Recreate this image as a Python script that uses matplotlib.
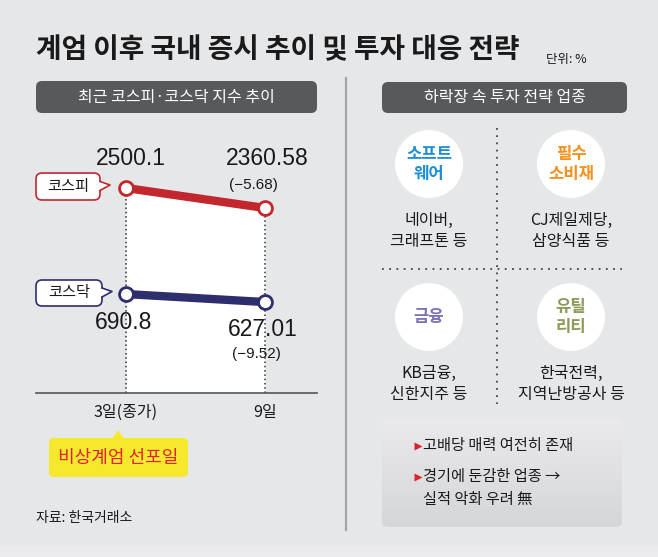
import matplotlib as mpl
import matplotlib.pyplot as plt
import numpy as np
from matplotlib.patches import FancyBboxPatch, Circle, Polygon

KR = ['Noto Sans CJK KR', 'DejaVu Sans']
NUM = ['Liberation Sans', 'DejaVu Sans']
mpl.rcParams['font.family'] = KR

# ---- data ----
days = ['3일(종가)', '9일']
kospi = [2500.1, 2360.58]
kosdaq = [690.8, 627.01]
kospi_chg = -5.68
kosdaq_chg = -9.52

sectors = ['소프트\n웨어', '필수\n소비재', '금융', '유틸\n리티']
sector_colors = ['#1b8ed5', '#f3921f', '#7d72b7', '#8b9b59']
stocks = ['네이버,\n크래프톤 등', 'CJ제일제당,\n삼양식품 등', 'KB금융,\n신한지주 등', '한국전력,\n지역난방공사 등']
notes = ['고배당 매력 여전히 존재', '경기에 둔감한 업종 →\n실적 악화 우려 無']

BG = '#e6e7e9'
RED = '#c1272d'
NAVY = '#2e2d6e'
DARK = '#1a1a1a'
W, H = 658, 557

fig = plt.figure(figsize=(W/100, H/100), dpi=100, facecolor=BG)

# canvas in pixel coords, y going down
cv = fig.add_axes([0, 0, 1, 1])
cv.set_xlim(0, W)
cv.set_ylim(H, 0)
cv.axis('off')
cv.set_zorder(0)

def px2fig(l, t, r, b):
    return [l/W, 1 - b/H, (r - l)/W, (b - t)/H]

def box(x0, y0, w, h, fc, ec='none', r=6, lw=1.2, z=1):
    p = FancyBboxPatch((x0, y0), w, h, boxstyle='round,pad=0,rounding_size=%s' % r,
                       fc=fc, ec=ec, lw=lw, zorder=z)
    cv.add_patch(p)
    return p

# title
cv.text(36, 50, '계엄 이후 국내 증시 추이 및 투자 대응 전략', fontsize=20, fontweight='bold',
        color=DARK, va='center', ha='left')
cv.text(546, 60, '단위: %', fontsize=9, color=DARK, va='center', ha='left')
cv.add_patch(plt.Rectangle((0, 546), W, 11, fc='#ebebed', ec='none'))

# header boxes
box(36, 81, 281, 32, '#58595b')
cv.text(176.5, 97.5, '최근 코스피·코스닥 지수 추이', fontsize=11.5, color='white', ha='center', va='center')
box(382, 82, 245, 31, '#58595b')
cv.text(504.5, 97.5, '하락장 속 투자 전략 업종', fontsize=11.5, color='white', ha='center', va='center')

# divider between panels
cv.plot([346, 346], [78, 530], color='#a5a5a8', lw=1.6)

# ---- left: line chart ----
x = np.arange(len(days))
ax = fig.add_axes(px2fig(36, 140, 317, 393))
ax.set_zorder(1)
ax.set_facecolor('none')
ax.set_xlim(-0.647, 1.374)
ax.set_ylim(1070, 2835)
ax.fill_between(x, kospi, 1070, color='white', lw=0, zorder=0)
ax.vlines(x, 1070, kospi, colors='#333333', linestyles=(0, (1, 1.8)), lw=1.1, zorder=1)
ax.plot(x, kospi, color=RED, lw=6, marker='o', ms=10, mfc='white', mec=RED, mew=2,
        zorder=3, solid_capstyle='butt')
for s in ['top', 'left', 'right']:
    ax.spines[s].set_visible(False)
ax.spines['bottom'].set_color('#555555')
ax.spines['bottom'].set_linewidth(1.2)
ax.set_yticks([])
ax.set_xticks(x, days)
ax.tick_params(axis='x', length=0, pad=8, labelsize=11.5, labelcolor=DARK)

ax2 = ax.twinx()
ax2.set_ylim(-98, 1919)
for s in ax2.spines.values():
    s.set_visible(False)
ax2.set_yticks([])
ax2.plot(x, kosdaq, color=NAVY, lw=6, marker='o', ms=10, mfc='white', mec=NAVY, mew=2,
         zorder=3, solid_capstyle='butt')

def lab(a, xi, yi, s, dx, dy, fs):
    a.annotate(s, (xi, yi), xytext=(dx, dy), textcoords='offset pixels', ha='center',
               va='center', fontsize=fs, family=NUM, color=DARK)

lab(ax, 0, kospi[0], f'{kospi[0]}', 5, 30, 16.5)
lab(ax, 1, kospi[1], f'{kospi[1]}', 2, 50, 16.5)
lab(ax, 1, kospi[1], f'({kospi_chg:.2f})'.replace('-', '−'), -12, 23, 11)
lab(ax2, 0, kosdaq[0], f'{kosdaq[0]}', -2, -28, 16.5)
lab(ax2, 1, kosdaq[1], f'{kosdaq[1]}', -2, -27, 16.5)
lab(ax2, 1, kosdaq[1], f'({kosdaq_chg:.2f})'.replace('-', '−'), -9, -52, 11)

# callout bubbles
def bubble(x0, y0, w, h, ec, text):
    box(x0, y0, w, h, 'white', ec=ec, r=6, lw=1.2)
    ym = y0 + h/2
    cv.add_patch(Polygon([(x0 + w - 1.5, ym - 5), (x0 + w + 10, ym - 1.5), (x0 + w - 1.5, ym + 4)],
                         closed=True, fc='white', ec='none', zorder=3))
    cv.plot([x0 + w, x0 + w + 10, x0 + w], [ym - 5, ym - 1.5, ym + 4], color=ec, lw=1.2, zorder=4)
    cv.text(x0 + w/2, ym, text, fontsize=11, color=DARK, ha='center', va='center', zorder=5)

bubble(36, 173, 64, 27, RED, '코스피')
bubble(36, 280, 66, 26, NAVY, '코스닥')

# martial law marker
box(49, 438, 139, 39, '#f6e92d', r=5)
cv.add_patch(Polygon([(112, 439), (118, 430), (124, 439)], closed=True, fc='#f6e92d', ec='none'))
cv.text(118.5, 457.5, '비상계엄 선포일', fontsize=13, color='#e3212b', ha='center', va='center')

cv.text(36, 518, '자료: 한국거래소', fontsize=10, color=DARK, ha='left', va='center')

# ---- right: sectors ----
cv.plot([497, 497], [128, 404], ls=(0, (1, 3)), color='#444444', lw=1.3)
cv.plot([382, 622], [269, 269], ls=(0, (1, 3)), color='#444444', lw=1.3)

centers = [(429, 164), (571, 164), (429, 317), (571, 317)]
for (cx, cy), sec, col in zip(centers, sectors, sector_colors):
    cv.add_patch(Circle((cx, cy), 34, fc='white', ec='none', zorder=2))
    cv.text(cx, cy, sec, fontsize=12, fontweight='bold', color=col, ha='center', va='center',
            linespacing=1.15, zorder=3)

for (cx, cy), st in zip(centers, stocks):
    cv.text(cx, cy + 67, st, fontsize=11.5, color=DARK, ha='center', va='center',
            linespacing=1.35, zorder=3)

# note box with soft gradient
nb = box(382, 418, 240, 109, 'none', r=6)
grad = np.linspace(0, 1, 100).reshape(-1, 1)
cmap = mpl.colors.LinearSegmentedColormap.from_list('g', ['#eaeaec', '#d5d6d8'])
im = cv.imshow(grad, extent=(382, 622, 527, 418), cmap=cmap, aspect='auto', zorder=1)
im.set_clip_path(nb)
cv.set_xlim(0, W)
cv.set_ylim(H, 0)

for yc, note in zip([446, 477], notes):
    cv.plot(418, yc, marker='>', ms=6, color='#d9262c', mec='none', zorder=3)
    cv.text(423, yc - 9, note, fontsize=11, color=DARK, ha='left', va='top',
            linespacing=1.45, zorder=3)

fig.savefig('out.png', dpi=100, facecolor=BG)
